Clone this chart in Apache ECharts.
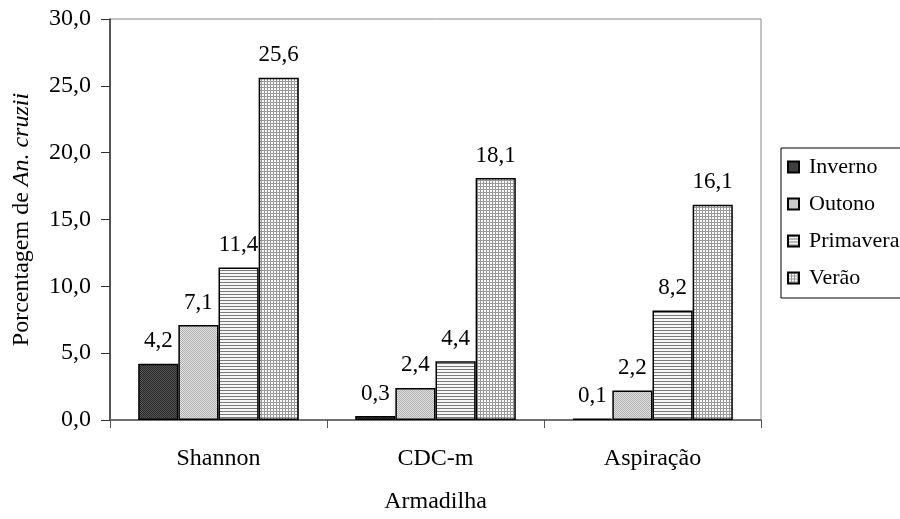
<!DOCTYPE html>
<html>
<head>
<meta charset="utf-8">
<script src="https://cdn.jsdelivr.net/npm/echarts@6/dist/echarts.min.js"></script>
<style>
    html, body { margin: 0; padding: 0; background: #fff; }
    #chart { width: 900px; height: 519px; }
</style>
</head>
<body>
<div id="chart"></div>
<script>
(function () {
    'use strict';

    var traps = ['Shannon', 'CDC-m', 'Aspiração'];
    var seasons = ['Inverno', 'Outono', 'Primavera', 'Verão'];
    var inverno = [4.2, 0.3, 0.1];
    var outono = [7.1, 2.4, 2.2];
    var primavera = [11.4, 4.4, 8.2];
    var verao = [25.6, 18.1, 16.1];

    var serif = 'Liberation Serif, Times New Roman, serif';

    //fill patterns like the old excel chart
    function makePattern(bg, fg, kind) {
        var n = (kind == 'hlines' || kind == 'grid') ? 3 : 2;
        var c = document.createElement('canvas');
        c.width = n;
        c.height = n;
        var ctx = c.getContext('2d');
        ctx.fillStyle = bg;
        ctx.fillRect(0, 0, n, n);
        ctx.fillStyle = fg;
        if (kind == 'check') {
            ctx.fillRect(0, 0, 1, 1);
            ctx.fillRect(1, 1, 1, 1);
        } else if (kind == 'hlines') {
            ctx.fillRect(0, 0, n, 1);
        } else if (kind == 'grid') {
            ctx.fillRect(0, 0, n, 1);
            ctx.fillRect(0, 0, 1, n);
        }
        return { image: c, repeat: 'repeat' };
    }

    var fills = [
        makePattern('#555', '#2a2a2a', 'check'),
        makePattern('#e2e2e2', '#b0b0b0', 'check'),
        makePattern('#f6f6f6', '#7a7a7a', 'hlines'),
        makePattern('#fafafa', '#999', 'grid')
    ];
    var values = [inverno, outono, primavera, verao];

    function fmt(v) {
        return v.toFixed(1).replace('.', ',');
    }

    var series = [];
    for (var i = 0; i < seasons.length; i++) {
        series.push({
            name: seasons[i],
            type: 'bar',
            data: values[i],
            barGap: '0%',
            barCategoryGap: '26%',
            itemStyle: {
                color: fills[i],
                borderColor: '#000',
                borderWidth: 1.5
            },
            label: {
                show: true,
                position: 'top',
                distance: 11,
                fontFamily: serif,
                fontSize: 23,
                color: '#000',
                formatter: function (p) {
                    return fmt(p.value);
                }
            }
        });
    }

    var myChart = echarts.init(document.getElementById('chart'));

    var option = {
        animation: false,
        backgroundColor: '#fff',
        grid: {
            left: 110,
            right: 139,
            top: 19,
            bottom: 95,
            show: true,
            borderColor: '#888',
            borderWidth: 1
        },
        legend: {
            orient: 'vertical',
            left: 781,
            top: 148,
            data: seasons,
            backgroundColor: '#fff',
            borderColor: '#000',
            borderWidth: 1,
            borderRadius: 0,
            padding: [8, 40, 9, 6],
            itemGap: 15,
            itemWidth: 11,
            itemHeight: 11,
            icon: 'rect',
            textStyle: {
                fontFamily: serif,
                fontSize: 22,
                lineHeight: 22,
                color: '#000',
                padding: [0, 0, 0, 5]
            }
        },
        xAxis: {
            type: 'category',
            data: traps,
            name: 'Armadilha',
            nameLocation: 'middle',
            nameGap: 70,
            nameTextStyle: { fontFamily: serif, fontSize: 24, color: '#000' },
            axisLine: { lineStyle: { color: '#555', width: 1.5 } },
            axisTick: { show: true, length: 8, lineStyle: { color: '#555' } },
            axisLabel: {
                margin: 27,
                fontFamily: serif,
                fontSize: 24,
                color: '#000'
            }
        },
        yAxis: {
            type: 'value',
            min: 0,
            max: 30,
            interval: 5,
            name: '{a|Porcentagem de }{b|An. cruzii}',
            nameLocation: 'middle',
            nameGap: 76,
            nameTextStyle: {
                rich: {
                    a: { fontFamily: serif, fontSize: 24, color: '#000' },
                    b: { fontFamily: serif, fontSize: 24, color: '#000', fontStyle: 'italic' }
                }
            },
            axisLine: { show: true, lineStyle: { color: '#333', width: 1.5 } },
            axisTick: { show: true, length: 9, lineStyle: { color: '#333' } },
            splitLine: { show: false },
            axisLabel: {
                margin: 19,
                fontFamily: serif,
                fontSize: 24,
                color: '#000',
                formatter: function (v) {
                    return fmt(v);
                }
            }
        },
        series: series
    };

    myChart.setOption(option);
})();
</script>
</body>
</html>
